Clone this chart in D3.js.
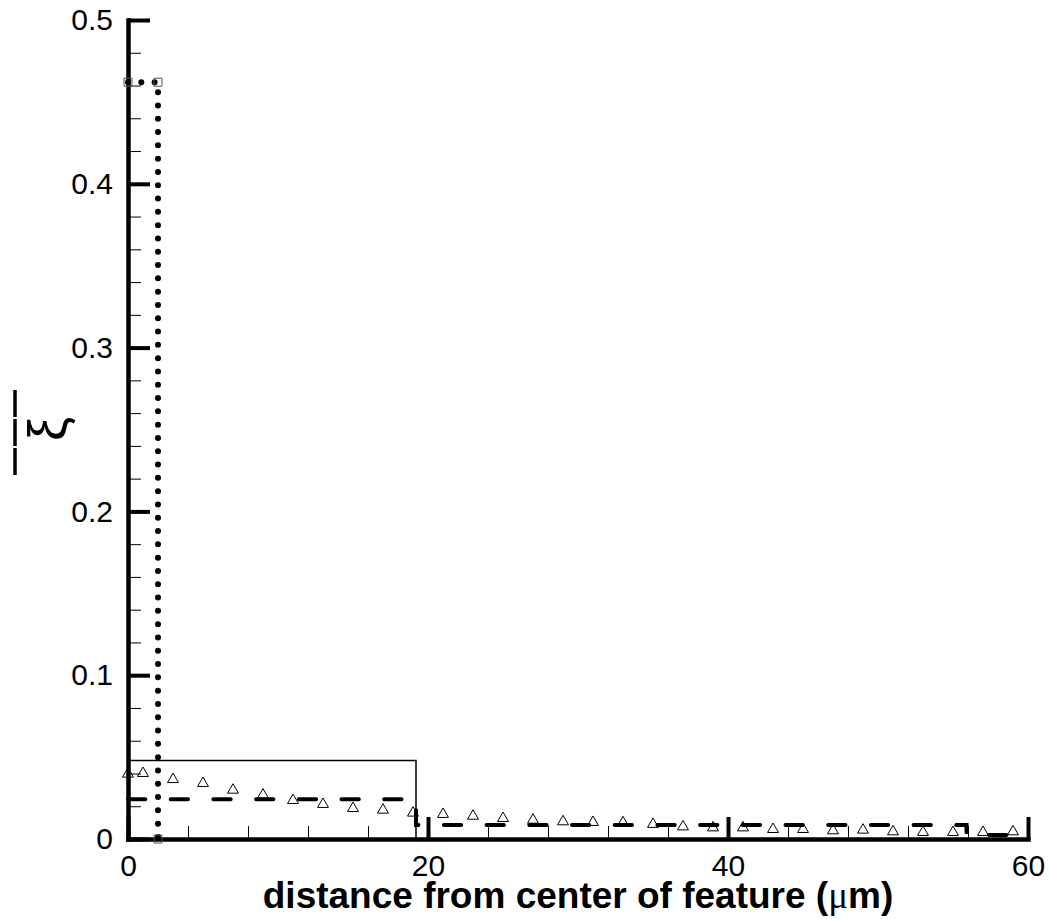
<!DOCTYPE html>
<html>
<head>
<meta charset="utf-8">
<script src="https://cdn.jsdelivr.net/npm/d3@7"></script>
<style>
body { margin: 0; background: #fff; }
text { font-family: "Liberation Sans", Arial, sans-serif; fill: #000; }
</style>
</head>
<body>
<div id="chart-container"></div>
<script>
//data
const triangleX = [0, 1, 3, 5, 7, 9, 11, 13, 15, 17, 19, 21, 23, 25, 27, 29, 31, 33, 35, 37, 39, 41, 43, 45, 47, 49, 51, 53, 55, 57, 59]
const triangleY = [0.0397, 0.0401, 0.0364, 0.0340, 0.0299, 0.0269, 0.0236, 0.0212, 0.0187, 0.0177, 0.0159,
    0.0151, 0.0140, 0.0126, 0.0116, 0.0106, 0.0102, 0.0100, 0.0090, 0.0075, 0.0069,
    0.0069, 0.0059, 0.0059, 0.0051, 0.0055, 0.0045, 0.0041, 0.0041, 0.0041, 0.0045]

//dotted line with square markers
const dottedX = [0, 2, 2]
const dottedY = [0.462, 0.462, 0]

//thin solid line
const solidX = [0, 19.2, 19.2]
const solidY = [0.048, 0.048, 0]

//thick dashed line
const dashedX = [0, 19.2, 19.2, 55.9, 55.9, 60]
const dashedY = [0.0242, 0.0242, 0.0085, 0.0085, 0.0024, 0.0024]

//ticks
const xMajorTicks = [0, 20, 40, 60]
const xTickLabels = ['0', '20', '40', '60']
const xMinorTicks = [4, 8, 12, 16, 24, 28, 32, 36, 44, 48, 52, 56]
const yMajorTicks = [0, 0.1, 0.2, 0.3, 0.4, 0.5]
const yTickLabels = ['0', '0.1', '0.2', '0.3', '0.4', '0.5']
const yMinorTicks = [0.02, 0.04, 0.06, 0.08, 0.12, 0.14, 0.16, 0.18, 0.22, 0.24, 0.26, 0.28,
    0.32, 0.34, 0.36, 0.38, 0.42, 0.44, 0.46, 0.48]

//settings
const width = 1049
const height = 919
const margin = { top: 20, right: 21, bottom: 80, left: 128 }
const innerWidth = width - margin.left - margin.right
const innerHeight = height - margin.top - margin.bottom

const xScale = d3.scaleLinear().domain([0, 60]).range([0, innerWidth])
const yScale = d3.scaleLinear().domain([0, 0.5]).range([innerHeight, 0])

const svg = d3.select('#chart-container')
    .append('svg')
    .attr('width', width)
    .attr('height', height)

const g = svg.append('g')
    .attr('transform', `translate(${margin.left}, ${margin.top})`)

//minor ticks first, thin lines pointing inward
g.append('g')
    .call(d3.axisLeft(yScale).tickValues(yMinorTicks).tickFormat('').tickSize(-13))
    .call(a => a.select('.domain').remove())
    .call(a => a.selectAll('line').attr('stroke-width', 1))

g.append('g')
    .attr('transform', `translate(0, ${innerHeight})`)
    .call(d3.axisBottom(xScale).tickValues(xMinorTicks).tickFormat('').tickSize(-13))
    .call(a => a.select('.domain').remove())
    .call(a => a.selectAll('line').attr('stroke-width', 1))

//major axes
const yAxis = g.append('g')
    .call(d3.axisLeft(yScale)
        .tickValues(yMajorTicks)
        .tickFormat((d, i) => yTickLabels[i])
        .tickSize(-22)
        .tickSizeOuter(0)
        .tickPadding(15))

const xAxis = g.append('g')
    .attr('transform', `translate(0, ${innerHeight})`)
    .call(d3.axisBottom(xScale)
        .tickValues(xMajorTicks)
        .tickFormat((d, i) => xTickLabels[i])
        .tickSize(-22)
        .tickSizeOuter(0)
        .tickPadding(16))

;[yAxis, xAxis].forEach(a => {
    a.select('.domain').attr('stroke-width', 4.5).attr('stroke-linecap', 'square')
    a.selectAll('.tick line').attr('stroke-width', 4)
    a.selectAll('.tick text')
        .attr('font-size', 30)
        .attr('font-weight', 'normal')
        .attr('font-family', '"Liberation Sans", Arial, sans-serif')
})

//line generator
const line = d3.line()
    .x(d => xScale(d[0]))
    .y(d => yScale(d[1]))

const zip = (xs, ys) => xs.map((x, i) => [x, ys[i]])

//solid line
g.append('path')
    .datum(zip(solidX, solidY))
    .attr('fill', 'none')
    .attr('stroke', '#000')
    .attr('stroke-width', 1.5)
    .attr('d', line)

//dashed line
g.append('path')
    .datum(zip(dashedX, dashedY))
    .attr('fill', 'none')
    .attr('stroke', '#000')
    .attr('stroke-width', 4)
    .attr('stroke-linecap', 'round')
    .attr('stroke-dasharray', '17.3 25.4')
    .attr('d', line)

//dotted line
g.append('path')
    .datum(zip(dottedX, dottedY))
    .attr('fill', 'none')
    .attr('stroke', '#000')
    .attr('stroke-width', 6)
    .attr('stroke-linecap', 'round')
    .attr('stroke-dasharray', '0 13.3')
    .attr('d', line)

//square markers
g.selectAll('.square')
    .data(zip(dottedX, dottedY))
    .enter()
    .append('path')
    .attr('class', 'square')
    .attr('transform', d => `translate(${xScale(d[0])}, ${yScale(d[1])})`)
    .attr('d', d3.symbol(d3.symbolSquare, 64))
    .attr('fill', 'none')
    .attr('stroke', '#555')
    .attr('stroke-width', 1)

//triangle markers
g.selectAll('.triangle')
    .data(zip(triangleX, triangleY))
    .enter()
    .append('path')
    .attr('class', 'triangle')
    .attr('transform', d => `translate(${xScale(d[0])}, ${yScale(d[1])})`)
    .attr('d', d3.symbol(d3.symbolTriangle, 52))
    .attr('fill', 'none')
    .attr('stroke', '#000')
    .attr('stroke-width', 1)

//x axis title
const title = svg.append('text')
    .attr('x', margin.left + innerWidth / 2)
    .attr('y', 908)
    .attr('text-anchor', 'middle')
    .attr('font-size', 37)
    .attr('font-weight', 'bold')
title.append('tspan').text('distance from center of feature (')
title.append('tspan').attr('font-weight', 'normal').attr('font-family', '"Liberation Serif", serif').text('μ')
title.append('tspan').text('m)')

//y axis label: xi with an overbar, turned on its side
const yLabel = svg.append('g')
    .attr('transform', 'translate(47, 429) rotate(-90)')
yLabel.append('text')
    .attr('text-anchor', 'middle')
    .attr('dominant-baseline', 'central')
    .attr('font-size', 54)
    .attr('font-family', '"Liberation Serif", serif')
    .text('ξ')
yLabel.append('line')
    .attr('x1', -46)
    .attr('x2', 40)
    .attr('y1', -32)
    .attr('y2', -32)
    .attr('stroke', '#000')
    .attr('stroke-width', 3.5)
    .attr('stroke-dasharray', '27 2')
</script>
</body>
</html>
